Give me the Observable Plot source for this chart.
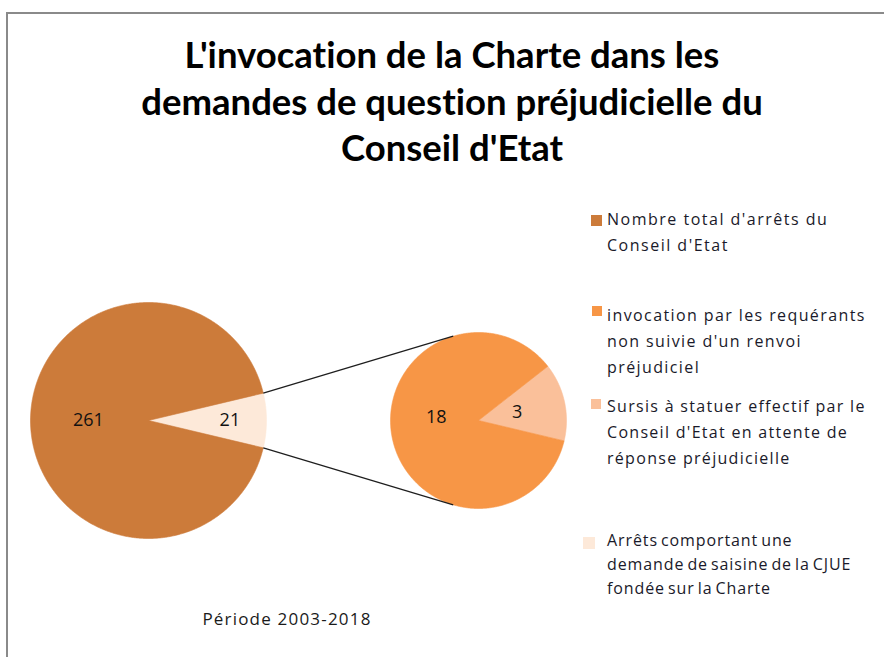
<!DOCTYPE html>
<html><head><meta charset="utf-8">
<script src="https://cdn.jsdelivr.net/npm/d3@7"></script>
<script src="https://cdn.jsdelivr.net/npm/@observablehq/plot@0.6"></script>
<style>
body{margin:0;background:#fff;}
#wrap{position:relative;width:884px;height:657px;overflow:hidden;background:#fff;}
#frame{position:absolute;left:6px;top:12px;width:900px;height:700px;border-left:2px solid #8a8a8a;border-top:2px solid #8a8a8a;}
#title{position:absolute;left:2px;width:900px;top:31px;text-align:center;font-family:Lato,"Open Sans",sans-serif;font-weight:bold;font-size:36.5px;line-height:46.5px;color:#000;font-variant-ligatures:none;}
#chart{position:absolute;left:0;top:0;}
.lg{position:absolute;font-family:"Open Sans",sans-serif;font-size:16px;color:#1a1a2a;white-space:nowrap;}
.sw{position:absolute;}
#caption{position:absolute;left:137px;width:300px;top:607px;text-align:center;font-family:"Open Sans",sans-serif;font-size:17px;letter-spacing:1.2px;color:#1a1a1a;}
</style></head>
<body>
<div id="wrap">
  <div id="frame"></div>
  <div id="title"></div>
  <div id="chart"></div>
  <div id="legend"></div>
  <div id="caption"></div>
</div>
<script>
// ---- data ----
const titleLines = ["L'invocation de la Charte dans les", "demandes de question préjudicielle du", "Conseil d'Etat"];
const mainCategories = ["Nombre total d'arrêts du Conseil d'Etat", "Arrêts comportant une demande de saisine de la CJUE fondée sur la Charte"];
const mainValues = [261, 21];
const subCategories = ["invocation par les requérants non suivie d'un renvoi préjudiciel", "Sursis à statuer effectif par le Conseil d'Etat en attente de réponse préjudicielle"];
const subValues = [18, 3];
const legendLines = [
  ["Nombre total d'arrêts du", "Conseil d'Etat"],
  ["invocation par les requérants", "non suivie d'un renvoi", "préjudiciel"],
  ["Sursis à statuer effectif par le", "Conseil d'Etat en attente de", "réponse préjudicielle"],
  ["Arrêts comportant une", "demande de saisine de la CJUE", "fondée sur la Charte"]
];
const captionText = "Période 2003-2018";

// ---- style / layout ----
const mainColors = ["#CC7B3A", "#FDE9D9"];
const subColors = ["#F79646", "#FAC09A"];
const MAIN = {cx: 148, cy: 420, r: 118, labelFrac: [0.51, 0.69], labelDy: [0, 0]};
const SUB = {cx: 478, cy: 420, r: 88, labelFrac: [0.49, 0.45], labelDy: [-12, 0]};
const legendLayout = [
  {top: 206, sx: 591, sy: 215, s: 11, ls: "1.5px", ws: "0px", lh: 26, color: mainColors[0]},
  {top: 302, sx: 592, sy: 306, s: 10, ls: "1.4px", ws: "0px", lh: 26, color: subColors[0]},
  {top: 393, sx: 591, sy: 399, s: 10, ls: "1.3px", ws: "0px", lh: 26, color: subColors[1]},
  {top: 528, sx: 583, sy: 537, s: 12, ls: "0.9px", ws: "-2px", lh: 24, color: mainColors[1]}
];

document.getElementById("title").innerHTML = titleLines.join("<br>");
document.getElementById("caption").textContent = captionText;

const deg = Math.PI / 180;
const mainTotal = d3.sum(mainValues);
const half = 360 * mainValues[1] / mainTotal / 2; // exploded slice centred on the right

function buildSlices(values, colors, geo, start) {
  const total = d3.sum(values);
  const out = [];
  let a = start;
  // place the last (small) slice first, counter-clockwise from start
  for (let i = values.length - 1; i >= 0; i--) {
    const span = 360 * values[i] / total;
    const a0 = a, a1 = a + span;
    const pts = [{x: geo.cx, y: geo.cy}];
    const n = Math.max(2, Math.ceil(span * 2));
    for (let k = 0; k <= n; k++) {
      const t = (a0 + (a1 - a0) * k / n) * deg;
      pts.push({x: geo.cx + geo.r * Math.cos(t), y: geo.cy - geo.r * Math.sin(t)});
    }
    pts.push({x: geo.cx, y: geo.cy});
    const mid = (a0 + a1) / 2 * deg;
    const f = geo.labelFrac[i];
    out.push({pts, color: colors[i], value: values[i],
      lx: geo.cx + geo.r * f * Math.cos(mid), ly: geo.cy - geo.r * f * Math.sin(mid) + geo.labelDy[i]});
    a = a1;
  }
  return out;
}

const mainSlices = buildSlices(mainValues, mainColors, MAIN, -half);
const subSlices = buildSlices(subValues, subColors, SUB, -half);

// connector lines: from edges of the exploded slice tangent to the secondary pie
function tangent(angleDeg, sign) {
  const px = MAIN.cx + MAIN.r * Math.cos(angleDeg * deg);
  const py = MAIN.cy - MAIN.r * Math.sin(angleDeg * deg);
  const dx = px - SUB.cx, dy = -(py - SUB.cy);
  const d = Math.hypot(dx, dy);
  const phi = Math.atan2(dy, dx);
  const t = phi - sign * Math.acos(SUB.r / d);
  return {x1: px, y1: py, x2: SUB.cx + SUB.r * Math.cos(t), y2: SUB.cy - SUB.r * Math.sin(t)};
}
const connectors = [tangent(half, 1), tangent(-half, -1)];

const marks = [];
for (const s of [...mainSlices, ...subSlices]) {
  marks.push(Plot.line(s.pts, {x: "x", y: "y", fill: s.color, stroke: s.color, strokeWidth: 0.6}));
}
marks.push(Plot.link(connectors, {x1: "x1", y1: "y1", x2: "x2", y2: "y2", stroke: "#1e1e1e", strokeWidth: 1.3}));
const labels = [...mainSlices, ...subSlices];
marks.push(Plot.text(labels, {x: "lx", y: "ly", text: d => String(d.value), fontSize: 18, fontFamily: "Open Sans, sans-serif", fill: "#111"}));

const chart = Plot.plot({
  width: 884, height: 657, margin: 0,
  x: {domain: [0, 884], range: [0, 884], axis: null},
  y: {domain: [0, 657], range: [0, 657], axis: null},
  style: {background: "transparent", overflow: "visible"},
  marks
});
document.getElementById("chart").appendChild(chart);

// legend
const lg = document.getElementById("legend");
legendLayout.forEach((L, i) => {
  const sw = document.createElement("div");
  sw.className = "sw";
  Object.assign(sw.style, {left: L.sx + "px", top: L.sy + "px", width: L.s + "px", height: L.s + "px", background: L.color});
  lg.appendChild(sw);
  const t = document.createElement("div");
  t.className = "lg";
  Object.assign(t.style, {left: "607px", top: L.top + "px", lineHeight: L.lh + "px", letterSpacing: L.ls, wordSpacing: L.ws});
  t.innerHTML = legendLines[i].join("<br>");
  lg.appendChild(t);
});
</script>
</body></html>
